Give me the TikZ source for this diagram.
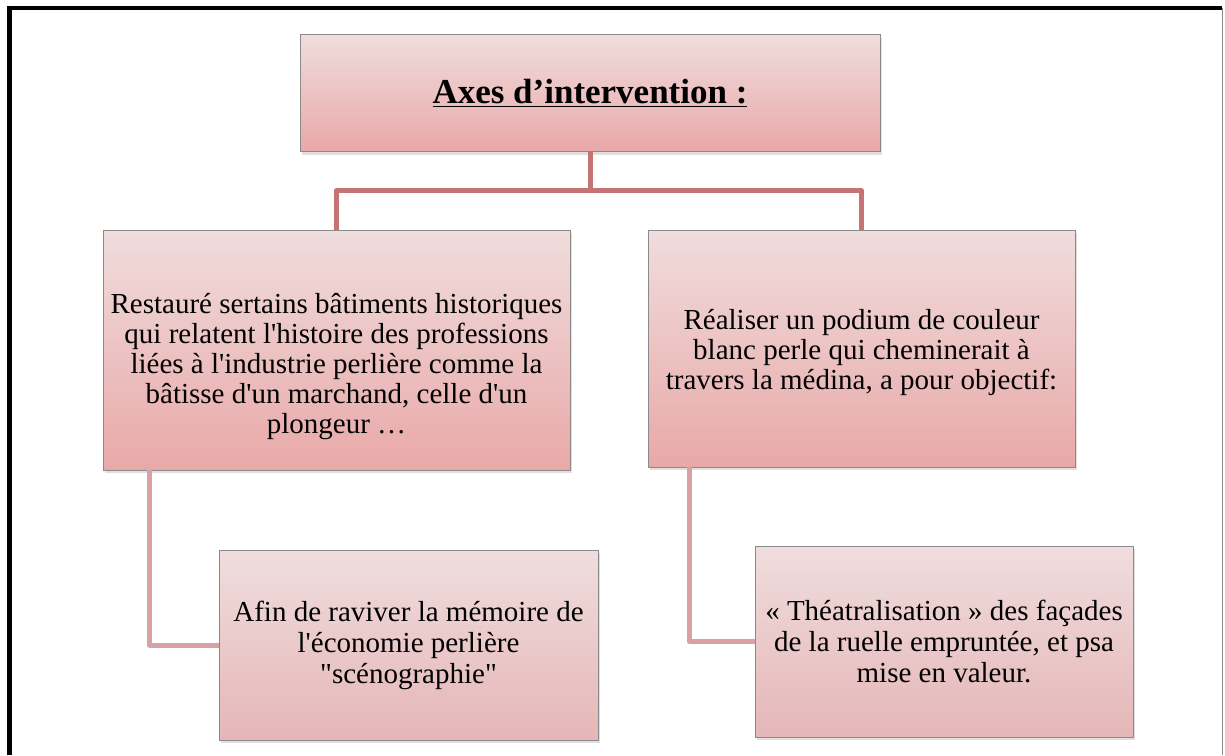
\documentclass[tikz,border=0pt]{standalone}
\usepackage{fontspec}
\setmainfont{Liberation Serif}[Ligatures=TeXOff]
\usetikzlibrary{shadows}
\definecolor{rosehaut}{RGB}{240,221,221}
\definecolor{rosebas}{RGB}{233,168,168}
\definecolor{rosepale}{RGB}{229,182,183}
\definecolor{lienfort}{RGB}{200,115,115}
\definecolor{lienpale}{RGB}{218,160,164}
\definecolor{bordgris}{RGB}{138,138,138}
\begin{document}
\begin{tikzpicture}[x=1pt,y=-1pt,
  boite/.style={draw=bordgris, line width=0.8pt, rectangle, align=center, inner sep=0pt,
    top color=rosehaut, bottom color=rosebas,
    drop shadow={opacity=0.25, shadow xshift=2pt, shadow yshift=-3pt},
    font=\fontsize{29}{31}\selectfont},
  boitepale/.style={boite, bottom color=rosepale},
  texte/.style={align=center, inner sep=0pt, font=\fontsize{29}{30}\selectfont},
  lien/.style={line width=5pt, draw=lienfort, line join=round},
  lienbas/.style={line width=5pt, draw=lienpale, line join=round}]
\useasboundingbox (0,0) rectangle (1225,755);
% cadre de la page
\draw[line width=4.5pt] (9.5,755) -- (9.5,8) -- (1222,8);
\draw[bordgris, line width=1.2pt] (1222.5,8) -- (1222.5,755);
% boites
\node[boite, minimum width=580, minimum height=117, font=\fontsize{35}{40}\selectfont\bfseries] (axes) at (590,93) {\underline{Axes d’intervention :}};
\node[boite, minimum width=467, minimum height=240] (rest) at (336.5,350) {};
\node[texte] (rest-t) at (336.5,367) {Restauré sertains bâtiments historiques\\qui relatent l'histoire des professions\\liées à l'industrie perlière comme la\\bâtisse d'un marchand, celle d'un\\plongeur …};
\node[boite, minimum width=427, minimum height=237] (podium) at (861.5,348.5) {};
\node[texte] (podium-t) at (861.5,352) {Réaliser un podium de couleur\\blanc perle qui cheminerait à\\travers la médina, a pour objectif:};
\node[boitepale, minimum width=379, minimum height=190] (memoire) at (408.5,645) {Afin de raviver la mémoire de\\l'économie perlière\\"scénographie"};
\node[boitepale, minimum width=378, minimum height=191] (facades) at (944,641.5) {« Théatralisation » des façades\\de la ruelle empruntée, et psa\\mise en valeur.};
% liens
\draw[lien] (axes.south) -- ++(0,39) -| (rest.north);
\draw[lien] (axes.south) -- ++(0,39) -| (podium.north);
\draw[lienbas] ([xshift=47]rest.south west) |- (memoire.west);
\draw[lienbas] ([xshift=42]podium.south west) |- (facades.west);
\end{tikzpicture}
\end{document}
